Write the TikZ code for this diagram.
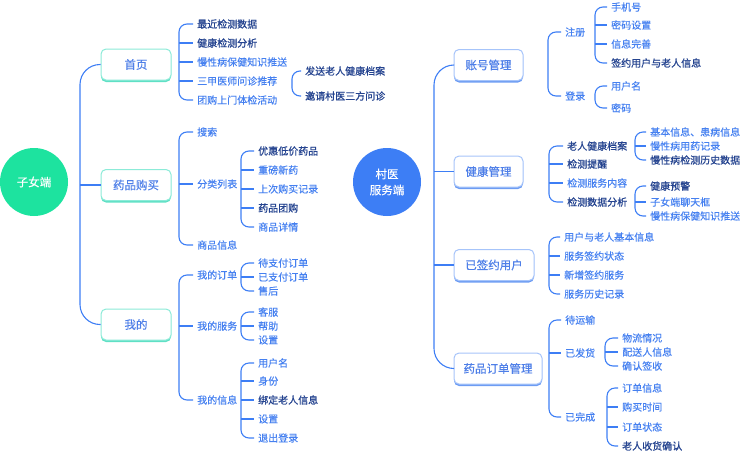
\documentclass[tikz,border=0pt]{standalone}
\usepackage{fontspec}
\setmainfont{Noto Sans CJK SC}[FakeBold=0.3]
\newfontfamily\darkf{Noto Sans CJK SC}[FakeBold=0.9]
\usetikzlibrary{shadows}
\definecolor{ln}{HTML}{3D7EF5}
\definecolor{lt}{HTML}{4580F0}
\definecolor{dk}{HTML}{24438F}
\definecolor{boxt}{HTML}{4E7FE8}
\definecolor{gbord}{HTML}{8CEBD8}
\definecolor{gshad}{HTML}{5FE0C5}
\definecolor{bbord}{HTML}{A6C4FA}
\definecolor{bshad}{HTML}{6D9CF3}
\definecolor{groot}{HTML}{1DE39F}
\definecolor{broot}{HTML}{3D7EF5}
\tikzset{
  br/.style={draw=ln, line width=1.1pt, rounded corners=8pt},
  tr/.style={draw=ln, line width=1.1pt, rounded corners=20pt},
  itm/.style={anchor=west, inner sep=0pt, font=\fontsize{10}{12}\selectfont, text=lt},
  itd/.style={itm, text=dk, font=\darkf\fontsize{10}{12}\selectfont},
  boxbase/.style={fill=white, rounded corners=5pt, line width=1pt, minimum height=31pt, inner sep=0pt,
    font=\fontsize{11.5}{13}\selectfont, text=boxt},
  gbox/.style={boxbase, draw=gbord, general shadow={fill=gshad, shadow yshift=-2pt}},
  bbox/.style={boxbase, draw=bbord, general shadow={fill=bshad, shadow yshift=-2pt}},
  root/.style={circle, minimum size=68pt, inner sep=0pt, text=white, align=center,
    font=\fontsize{11.5}{16}\selectfont}
}
\newcommand\bk[3]{\draw[br] ([xshift=-4pt]#2.west) -- (#1,0 |- #2.west) -- (#1,0 |- #3.west) -- ([xshift=-4pt]#3.west);}
\newcommand\tk[2]{\draw[br] (#1,0 |- #2.west) -- ([xshift=-4pt]#2.west);}
\begin{document}
\begin{tikzpicture}[x=1pt,y=-1pt]
\useasboundingbox (0,0) rectangle (749,453);
% roots
\node[root, fill=groot] (kid) at (34,182) {子女端};
\node[root, fill=broot] (doc) at (387,182) {村医\\服务端};
% left boxes
\node[gbox, minimum width=70pt] (home) at (136,64.5) {首页};
\node[gbox, minimum width=70pt] (buy) at (136,185) {药品购买};
\node[gbox, minimum width=70pt] (mine) at (136,324.5) {我的};
% right boxes
\node[bbox, minimum width=69pt] (acct) at (488.5,65) {账号管理};
\node[bbox, minimum width=69pt] (hlth) at (488.5,171.5) {健康管理};
\node[bbox, minimum width=80pt] (sgn) at (494,265) {已签约用户};
\node[bbox, minimum width=88pt] (ord) at (498,368.5) {药品订单管理};
% trunks
\draw[tr] (home.west) -- (80,0 |- home.west) -- (80,0 |- mine.west) -- (mine.west);
\draw[tr] (80,0 |- buy.west) -- (buy.west);
\draw[tr] (acct.west) -- (434,0 |- acct.west) -- (434,0 |- ord.west) -- (ord.west);
\draw[tr] (434,0 |- hlth.west) -- (hlth.west);
\draw[tr] (434,0 |- sgn.west) -- (sgn.west);
% ---- 首页
\node[itd] (a1) at (197,24) {最近检测数据};
\node[itd] (a2) at (197,43) {健康检测分析};
\node[itm] (a3) at (197,62) {慢性病保健知识推送};
\node[itm] (a4) at (197,81) {三甲医师问诊推荐};
\node[itm] (a5) at (197,100) {团购上门体检活动};
\bk{179}{a1}{a5}\tk{179}{a2}\tk{179}{a3}\tk{179}{a4}
\node[itd] (a41) at (305,71) {发送老人健康档案};
\node[itd] (a42) at (305,96) {邀请村医三方问诊};
\bk{292}{a41}{a42}
% ---- 药品购买
\node[itm] (b1) at (197,132) {搜索};
\node[itm] (b2) at (197,184) {分类列表};
\node[itm] (b3) at (197,245) {商品信息};
\bk{179}{b1}{b3}\tk{179}{b2}
\node[itd] (b21) at (258,151) {优惠低价药品};
\node[itm] (b22) at (258,170) {重磅新药};
\node[itm] (b23) at (258,189) {上次购买记录};
\node[itd] (b24) at (258,208) {药品团购};
\node[itm] (b25) at (258,227) {商品详情};
\bk{241}{b21}{b25}\tk{241}{b22}\tk{241}{b23}\tk{241}{b24}
% ---- 我的
\node[itm] (c1) at (197,275) {我的订单};
\node[itm] (c2) at (197,326) {我的服务};
\node[itm] (c3) at (197,400) {我的信息};
\bk{179}{c1}{c3}\tk{179}{c2}
\node[itm] (c11) at (258,263) {待支付订单};
\node[itm] (c12) at (258,277) {已支付订单};
\node[itm] (c13) at (258,291) {售后};
\bk{241}{c11}{c13}\tk{241}{c12}
\node[itm] (c21) at (258,312) {客服};
\node[itm] (c22) at (258,326) {帮助};
\node[itm] (c23) at (258,340) {设置};
\bk{241}{c21}{c23}\tk{241}{c22}
\node[itm] (c31) at (258,363) {用户名};
\node[itm] (c32) at (258,381) {身份};
\node[itd] (c33) at (258,400) {绑定老人信息};
\node[itm] (c34) at (258,419) {设置};
\node[itm] (c35) at (258,438) {退出登录};
\bk{241}{c31}{c35}\tk{241}{c32}\tk{241}{c33}\tk{241}{c34}
% ---- 账号管理
\node[itm] (d1) at (565,32) {注册};
\node[itm] (d2) at (565,96) {登录};
\bk{548}{d1}{d2}
\node[itm] (d11) at (611,7) {手机号};
\node[itm] (d12) at (611,25) {密码设置};
\node[itm] (d13) at (611,44) {信息完善};
\node[itd] (d14) at (611,63) {签约用户与老人信息};
\bk{595}{d11}{d14}\tk{595}{d12}\tk{595}{d13}
\node[itm] (d21) at (611,86) {用户名};
\node[itm] (d22) at (611,108) {密码};
\bk{595}{d21}{d22}
% ---- 健康管理
\node[itd] (e1) at (567,146) {老人健康档案};
\node[itd] (e2) at (567,164) {检测提醒};
\node[itm] (e3) at (567,183) {检测服务内容};
\node[itd] (e4) at (567,202) {检测数据分析};
\bk{549}{e1}{e4}\tk{549}{e2}\tk{549}{e3}
\node[itm] (e11) at (650,132) {基本信息、患病信息};
\node[itm] (e12) at (650,146) {慢性病用药记录};
\node[itd] (e13) at (650,160) {慢性病检测历史数据};
\bk{635}{e11}{e13}\tk{635}{e12}
\node[itd] (e41) at (650,186) {健康预警};
\node[itm] (e42) at (650,202) {子女端聊天框};
\node[itm] (e43) at (650,216) {慢性病保健知识推送};
\bk{635}{e41}{e43}\tk{635}{e42}
% ---- 已签约用户
\node[itm] (f1) at (564,237) {用户与老人基本信息};
\node[itm] (f2) at (564,256) {服务签约状态};
\node[itm] (f3) at (564,275) {新增签约服务};
\node[itm] (f4) at (564,294) {服务历史记录};
\bk{549}{f1}{f4}\tk{549}{f2}\tk{549}{f3}
% ---- 药品订单管理
\node[itm] (g1) at (565,320) {待运输};
\node[itm] (g2) at (565,353) {已发货};
\node[itm] (g3) at (565,417) {已完成};
\bk{549}{g1}{g3}\tk{549}{g2}
\node[itm] (g21) at (622,338) {物流情况};
\node[itm] (g22) at (622,352) {配送人信息};
\node[itm] (g23) at (622,366) {确认签收};
\bk{605}{g21}{g23}\tk{605}{g22}
\node[itm] (g31) at (622,388) {订单信息};
\node[itm] (g32) at (622,407) {购买时间};
\node[itm] (g33) at (622,427) {订单状态};
\node[itd] (g34) at (622,446) {老人收货确认};
\bk{607}{g31}{g34}\tk{607}{g32}\tk{607}{g33}
\end{tikzpicture}
\end{document}
